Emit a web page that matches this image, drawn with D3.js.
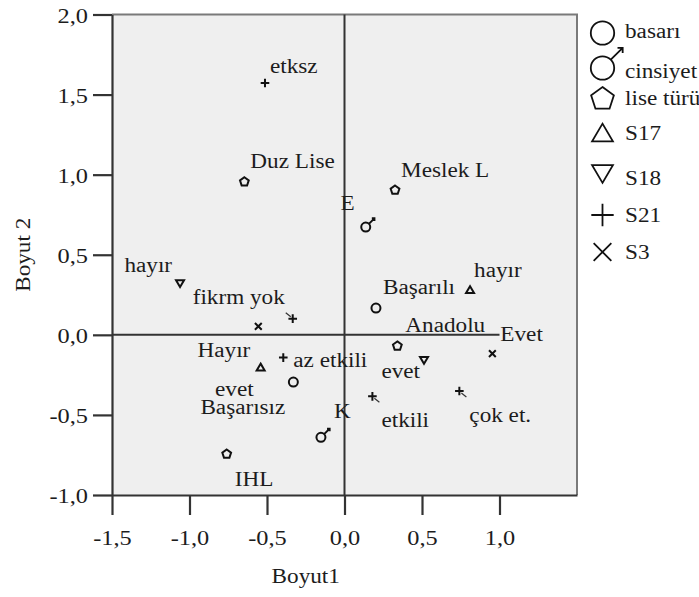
<!DOCTYPE html>
<html>
<head>
<meta charset="utf-8">
<script src="https://cdn.jsdelivr.net/npm/d3@7"></script>
<style>
  html, body { margin: 0; padding: 0; background: #ffffff; }
  svg { display: block; }
</style>
</head>
<body>
<div id="chart"></div>
<script>
// ---------------- DATA ----------------
const variables = ["basarı", "cinsiyet", "lise türü", "S17", "S18", "S21", "S3"];
const variableShapes = ["circle", "male", "pentagon", "triUp", "triDown", "plus", "times"];

const pointLabels = ["Başarılı", "Başarısız", "E", "K", "Duz Lise", "Meslek L", "Anadolu", "IHL",
  "hayır", "evet", "hayır", "evet", "etksz", "fikrm yok", "az etkili", "etkili", "çok et.", "Evet", "Hayır"];
const pointVars = ["basarı", "basarı", "cinsiyet", "cinsiyet", "lise türü", "lise türü", "lise türü", "lise türü",
  "S17", "S17", "S18", "S18", "S21", "S21", "S21", "S21", "S21", "S3", "S3"];
const dim1 = [0.203, -0.330, 0.137, -0.152, -0.646, 0.326, 0.341, -0.760,
  0.810, -0.541, -1.061, 0.513, -0.513, -0.334, -0.395, 0.180, 0.741, 0.954, -0.556];
const dim2 = [0.167, -0.295, 0.673, -0.640, 0.958, 0.906, -0.067, -0.742,
  0.282, -0.201, 0.320, -0.159, 1.572, 0.101, -0.142, -0.384, -0.351, -0.117, 0.053];

const xTicks = [-1.5, -1.0, -0.5, 0.0, 0.5, 1.0];
const xTickLabels = ["-1,5", "-1,0", "-0,5", "0,0", "0,5", "1,0"];
const yTicks = [-1.0, -0.5, 0.0, 0.5, 1.0, 1.5, 2.0];
const yTickLabels = ["-1,0", "-0,5", "0,0", "0,5", "1,0", "1,5", "2,0"];
const xTitle = "Boyut1";
const yTitle = "Boyut 2";

// ---------------- LAYOUT / STYLE ----------------
const W = 699, H = 597;
const plot = { left: 112, right: 577, top: 14.5, bottom: 495 };
const FONT = "'Liberation Serif', 'Times New Roman', Times, serif";
const SX = 1.16;           // horizontal widening of the serif face
const INK = "#1c1c1c";

// label placement relative to its marker: [dx, dy, anchor, leaderDirX, leaderDirY]
const labelPlacement = [
  [7, -14, "start"], [-8, 32, "end"], [-11, -17, "end"], [13, -19, "start"],
  [6, -13, "start"], [6, -13, "start"], [8, -14, "start"], [8, 32, "start"],
  [4, -13, "start"], [-7, 29, "end"], [-8, -12, "end"], [-4, 18, "end"],
  [5, -10, "start"], [-8, -15, "end", -1, -1], [10, 9, "start"], [9, 31, "start", 1, 1],
  [10, 31, "start", 1, 1], [8, -13, "start"], [-8, 31, "end"]
];
// legend text baselines
const legendX = 625, legendSymX = 602.5;
const legendBaselines = [38, 78, 105, 140, 185, 222, 259];
const legendSymOffset = { circle: -5, male: -10, pentagon: -7, triUp: -7.5, triDown: -11, plus: -7, times: -7 };

const x = d3.scaleLinear().domain([-1.5, 1.5]).range([plot.left, plot.right]);
const y = d3.scaleLinear().domain([-1.0, 2.0]).range([plot.bottom, plot.top]);

const svg = d3.select("#chart").append("svg").attr("width", W).attr("height", H);

function addText(g, str, tx, ty, anchor, size, rotate) {
  return g.append("text")
    .attr("transform", `translate(${tx},${ty})${rotate ? " rotate(" + rotate + ")" : ""} scale(${SX},1)`)
    .attr("text-anchor", anchor)
    .style("font-family", FONT)
    .style("font-size", size + "px")
    .attr("fill", INK)
    .text(str);
}

function markerPath(type, s) {
  const p = d3.path();
  if (type === "circle" || type === "male") {
    const r = 4.5 * s;
    p.moveTo(r, 0); p.arc(0, 0, r, 0, 2 * Math.PI);
    if (type === "male") {
      const a = r * 0.707, L = 4 * s + 1.5, h = 1.6 * s + 1;
      const tx = a + L, ty = -a - L;
      p.moveTo(a, -a); p.lineTo(tx, ty);
      p.moveTo(tx - h, ty); p.lineTo(tx, ty); p.lineTo(tx, ty + h);
    }
  } else if (type === "pentagon") {
    const r = 4.6 * s;
    for (let i = 0; i < 5; i++) {
      const ang = -Math.PI / 2 + i * 2 * Math.PI / 5;
      const px = r * Math.cos(ang), py = r * Math.sin(ang) + 0.4 * s;
      if (i === 0) p.moveTo(px, py); else p.lineTo(px, py);
    }
    p.closePath();
  } else if (type === "triUp" || type === "triDown") {
    const w = 4 * s, hh = 3.4 * s, k = type === "triUp" ? 1 : -1;
    p.moveTo(0, -hh * k); p.lineTo(w, hh * k); p.lineTo(-w, hh * k); p.closePath();
  } else if (type === "plus") {
    const l = 4.3 * s;
    p.moveTo(-l, 0); p.lineTo(l, 0); p.moveTo(0, -l); p.lineTo(0, l);
  } else if (type === "times") {
    const l = 3.4 * s;
    p.moveTo(-l, -l); p.lineTo(l, l); p.moveTo(-l, l); p.lineTo(l, -l);
  }
  return p.toString();
}

// ---------------- PLOT AREA ----------------
svg.append("rect")
  .attr("x", plot.left).attr("y", plot.top)
  .attr("width", plot.right - plot.left).attr("height", plot.bottom - plot.top)
  .attr("fill", "#efefef");

// top & right border (lighter)
svg.append("path")
  .attr("d", `M${plot.left},${plot.top}H${plot.right}V${plot.bottom}`)
  .attr("fill", "none").attr("stroke", "#7a7a7a").attr("stroke-width", 2);

// reference lines at 0
svg.append("line")
  .attr("x1", x(0)).attr("x2", x(0)).attr("y1", plot.top).attr("y2", plot.bottom)
  .attr("stroke", "#333").attr("stroke-width", 2);
svg.append("line")
  .attr("x1", plot.left).attr("x2", x(xTicks[xTicks.length - 1])).attr("y1", y(0)).attr("y2", y(0))
  .attr("stroke", "#333").attr("stroke-width", 2);

// axes
const yAxis = d3.axisLeft(y).tickValues(yTicks).tickSize(19).tickSizeOuter(0).tickFormat((d, i) => yTickLabels[i]);
const gy = svg.append("g").attr("transform", `translate(${plot.left},0)`).call(yAxis);
gy.select(".domain").attr("stroke", "#333").attr("stroke-width", 2.2);
gy.selectAll(".tick line").attr("stroke", "#333").attr("stroke-width", 2.2);
gy.selectAll(".tick text").remove();
gy.selectAll(".tick").each(function (d, i) {
  addText(d3.select(this), yTickLabels[i], -24, 7.5, "end", 21);
});

const xAxis = d3.axisBottom(x).tickValues(xTicks).tickSize(20).tickSizeOuter(0).tickFormat((d, i) => xTickLabels[i]);
const gx = svg.append("g").attr("transform", `translate(0,${plot.bottom})`).call(xAxis);
gx.select(".domain").attr("stroke", "#333").attr("stroke-width", 2.2);
gx.selectAll(".tick line").attr("stroke", "#333").attr("stroke-width", 2.2);
gx.selectAll(".tick text").remove();
gx.selectAll(".tick").each(function (d, i) {
  addText(d3.select(this), xTickLabels[i], 0, 50, "middle", 21);
});

// axis titles
addText(svg, xTitle, (x(xTicks[0]) + x(xTicks[xTicks.length - 1])) / 2, 583, "middle", 20);
addText(svg, yTitle, 30, (plot.top + plot.bottom) / 2, "middle", 20, -90);

// ---------------- POINTS ----------------
const shapeOf = v => variableShapes[variables.indexOf(v)];
const pts = svg.append("g");
pointLabels.forEach((lab, i) => {
  const px = x(dim1[i]), py = y(dim2[i]);
  const [dx, dy, anchor, lx, ly] = labelPlacement[i];
  if (lx !== undefined) {
    pts.append("line")
      .attr("x1", px + lx * 2).attr("y1", py + ly * 2)
      .attr("x2", px + lx * 7).attr("y2", py + ly * 6)
      .attr("stroke", "#333").attr("stroke-width", 1.2);
  }
  pts.append("path")
    .attr("transform", `translate(${px},${py})`)
    .attr("d", markerPath(shapeOf(pointVars[i]), 1))
    .attr("fill", "none").attr("stroke", "#111").attr("stroke-width", 2);
  addText(pts, lab, px + dx, py + dy, anchor, 20);
});

// ---------------- LEGEND ----------------
const leg = svg.append("g");
variables.forEach((v, i) => {
  const sh = variableShapes[i];
  const base = legendBaselines[i];
  leg.append("path")
    .attr("transform", `translate(${legendSymX},${base + legendSymOffset[sh]})`)
    .attr("d", markerPath(sh, 2.6))
    .attr("fill", "none").attr("stroke", "#111").attr("stroke-width", 1.8);
  addText(leg, v, legendX, base, "start", 20);
});
</script>
</body>
</html>
